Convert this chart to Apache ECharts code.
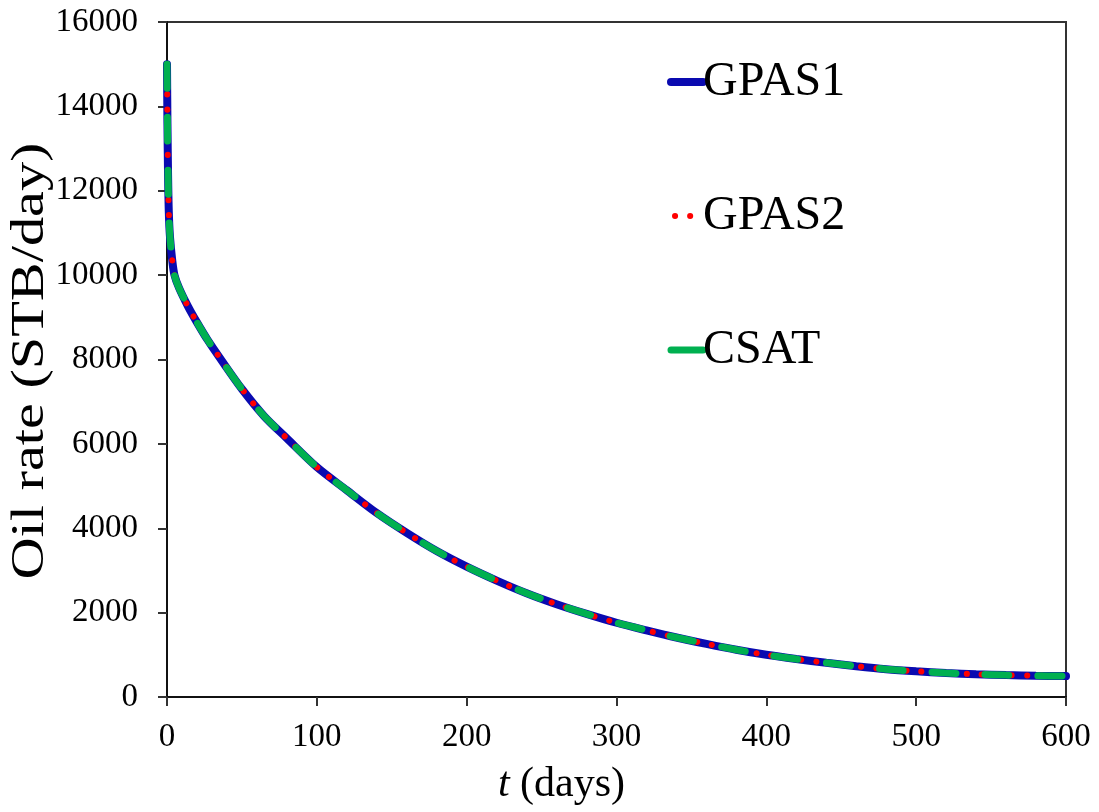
<!DOCTYPE html>
<html>
<head>
<meta charset="utf-8">
<script src="https://cdn.jsdelivr.net/npm/echarts@6/dist/echarts.min.js"></script>
<style>
  html, body { margin: 0; padding: 0; background: #fff; }
  #main { width: 1099px; height: 812px; }
</style>
</head>
<body>
<div id="main"></div>
<script>
// time in days and oil rate (STB/day)
var days = [0, 0.3, 0.7, 1.2, 2, 3.5, 5, 8, 14, 20, 27, 36, 50, 65, 80, 100, 120, 140, 160, 180,
  200, 220, 240, 260, 280, 300, 320, 340, 360, 380, 400, 420, 440, 460, 480, 500, 520, 540, 560, 580, 600];
var gpas1 = [15000, 13600, 12400, 11500, 10900, 10350, 10000, 9700, 9260, 8880, 8470, 8000, 7300, 6650, 6130, 5450, 4900, 4360, 3890, 3460,
  3090, 2760, 2460, 2200, 1970, 1760, 1580, 1410, 1260, 1120, 1000, 900, 810, 730, 660, 610, 570, 540, 520, 505, 495];
var gpas2 = gpas1.slice();
var csat = gpas1.slice();
var seriesNames = ['GPAS1', 'GPAS2', 'CSAT'];
var yTitle = 'Oil rate (STB/day)';

function pairs(ys) {
  var out = [];
  for (var i = 0; i < days.length; i++) out.push([days[i], ys[i]]);
  return out;
}

var chart = echarts.init(document.getElementById('main'));
var font = 'Liberation Serif, Times New Roman, serif';
var plain = function (v) { return String(v); };

var option = {
  backgroundColor: '#ffffff',
  animation: false,
  textStyle: { fontFamily: font, color: '#000' },
  grid: {
    left: 167, right: 33, top: 22, bottom: 115,
    show: true, borderColor: '#333', borderWidth: 2
  },
  legend: {
    orient: 'vertical',
    left: 662,
    top: 53,
    itemGap: 86,
    itemWidth: 32,
    itemHeight: 8,
    itemStyle: { opacity: 0 },
    textStyle: { fontFamily: font, fontSize: 48, color: '#000', padding: [0, 0, 0, -5] },
    data: [
      { name: seriesNames[0], lineStyle: { width: 8, cap: 'round', type: 'solid' } },
      { name: seriesNames[1], lineStyle: { width: 6, cap: 'round', type: [0.1, 15], dashOffset: -4 } },
      { name: seriesNames[2], lineStyle: { width: 7, cap: 'round', type: 'solid' } }
    ]
  },
  graphic: [{
    type: 'text',
    x: 31, y: 361,
    rotation: Math.PI / 2,
    scaleX: 1.24,
    style: {
      text: yTitle,
      font: '47px ' + font,
      fill: '#000',
      textAlign: 'center',
      textVerticalAlign: 'middle'
    }
  }],
  xAxis: {
    type: 'value',
    min: 0, max: 600, interval: 100,
    name: '{i|t} (days)',
    nameLocation: 'middle',
    nameGap: 67,
    nameTextStyle: {
      fontFamily: font, fontSize: 42, color: '#000', padding: [0, 110, 0, 0],
      rich: { i: { fontFamily: font, fontSize: 42, fontStyle: 'italic', color: '#000' } }
    },
    axisLine: { lineStyle: { color: '#111', width: 2 } },
    axisTick: { show: true, inside: false, length: 9, lineStyle: { color: '#333', width: 2 } },
    axisLabel: { fontFamily: font, fontSize: 33, color: '#000', margin: 24, formatter: plain },
    splitLine: { show: false }
  },
  yAxis: {
    type: 'value',
    min: 0, max: 16000, interval: 2000,
    axisLine: { show: true, lineStyle: { color: '#111', width: 2 } },
    axisTick: { show: true, inside: false, length: 9, lineStyle: { color: '#333', width: 2 } },
    axisLabel: { fontFamily: font, fontSize: 33, color: '#000', margin: 29, formatter: plain },
    splitLine: { show: false }
  },
  series: [
    {
      name: seriesNames[0], type: 'line', data: pairs(gpas1), symbol: 'none', smooth: 0.3, z: 2,
      itemStyle: { color: '#0A0AB0' },
      lineStyle: { color: '#0A0AB0', width: 8, cap: 'round' }
    },
    {
      name: seriesNames[1], type: 'line', data: pairs(gpas2), symbol: 'none', smooth: 0.3, z: 3,
      itemStyle: { color: '#FF0000' },
      lineStyle: { color: '#FF0000', width: 6, type: [0.1, 15], cap: 'round' }
    },
    {
      name: seriesNames[2], type: 'line', data: pairs(csat), symbol: 'none', smooth: 0.3, z: 4,
      itemStyle: { color: '#00B050' },
      lineStyle: { color: '#00B050', width: 7, type: [24, 29], cap: 'round' }
    }
  ]
};
chart.setOption(option);
</script>
</body>
</html>
